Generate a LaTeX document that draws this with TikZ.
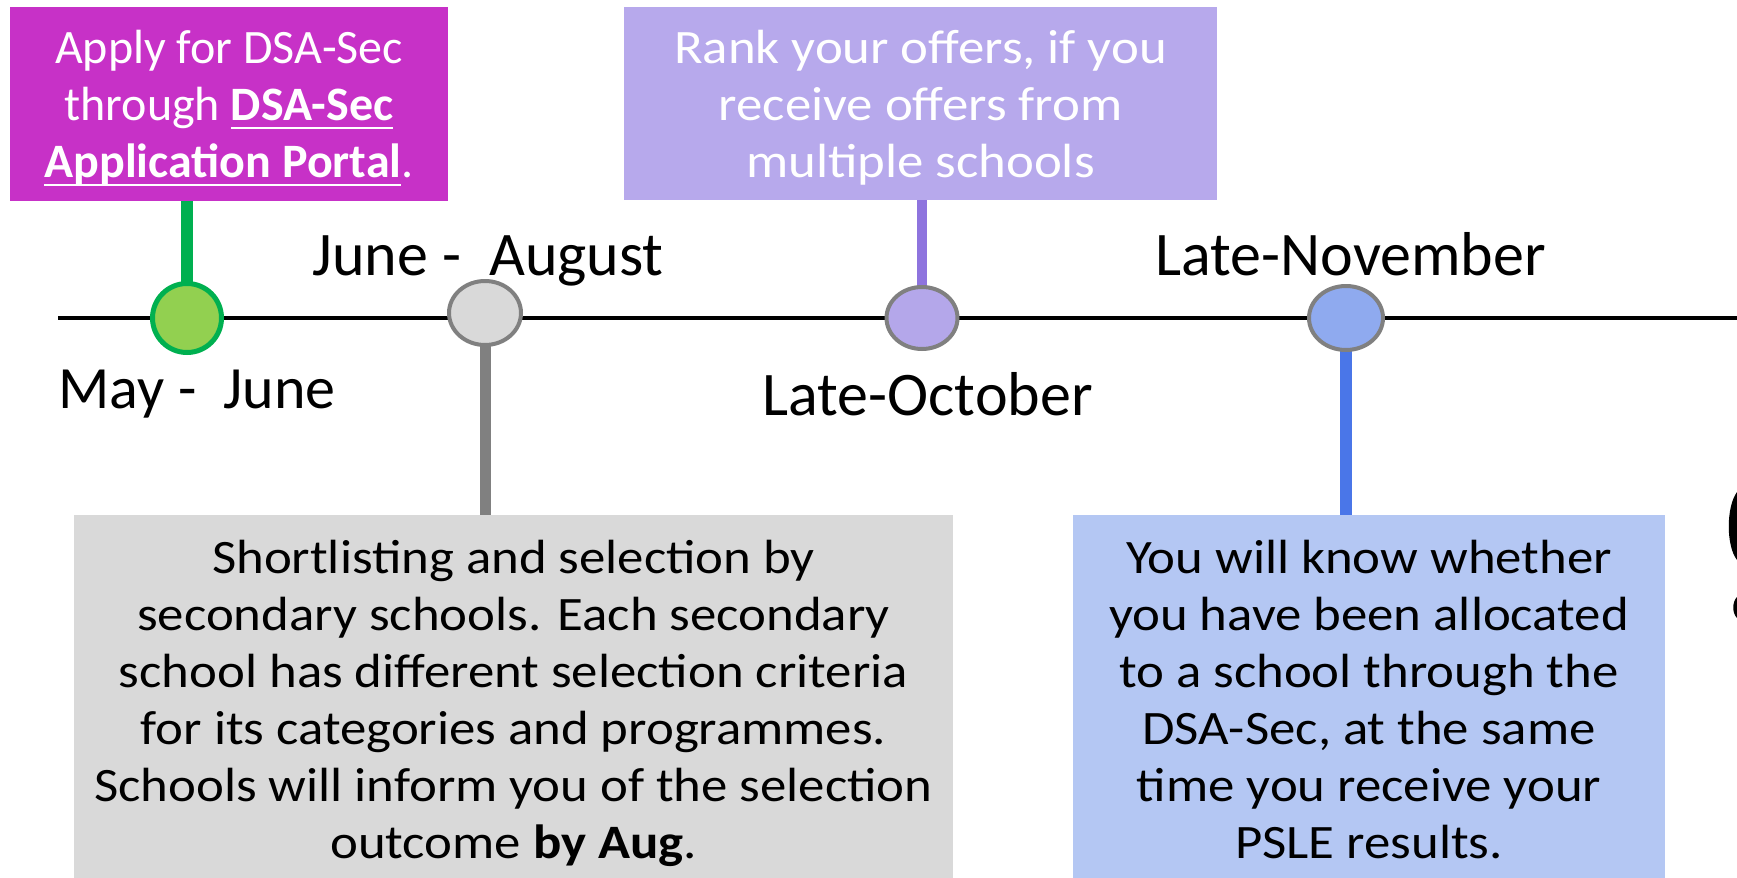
\documentclass[tikz,border=0pt]{standalone}
\usepackage{fontspec}
\setmainfont{Carlito}
\newfontfamily\widefont[FakeStretch=1.1]{Carlito}
\usetikzlibrary{shapes.geometric}
\newcommand{\myul}[1]{\setbox0\hbox{#1}\rlap{\rule[-4pt]{\wd0}{1pt}}\box0}
\definecolor{pboxc}{RGB}{199,49,199}
\definecolor{lboxc}{RGB}{183,169,236}
\definecolor{gboxc}{RGB}{217,217,217}
\definecolor{bboxc}{RGB}{180,199,243}
\definecolor{gstem}{RGB}{0,176,80}
\definecolor{gfill}{RGB}{146,208,80}
\definecolor{ring}{RGB}{128,128,128}
\definecolor{lstem}{RGB}{142,116,222}
\definecolor{lfill}{RGB}{180,167,234}
\definecolor{bstem}{RGB}{74,118,232}
\definecolor{bfill}{RGB}{143,170,239}
\tikzset{
  boxshape/.style={rectangle, draw=none, inner sep=0pt},
  bodytext/.style={align=center, inner sep=0pt, font=\fontsize{24}{28.5}\selectfont},
  widetext/.style={align=center, inner sep=0pt, font=\widefont\fontsize{24}{28.5}\selectfont},
  datetext/.style={anchor=base west, inner sep=0pt, font=\fontsize{31}{36}\selectfont},
  dot/.style={ellipse, inner sep=0pt, line width=2pt, draw=ring},
  stem/.style={line width=#1},
  timeline/.style={line width=2pt, black}
}
\begin{document}
\begin{tikzpicture}[x=0.5pt,y=-0.5pt]
\useasboundingbox (0,0) rectangle (1737,878);
\clip (0,0) rectangle (1737,878);
\fill[white] (0,0) rectangle (1737,878);

% boxes
\node[boxshape, fill=pboxc, minimum width=219pt, minimum height=97pt] (pbox) at (229,104) {};
\node[boxshape, fill=lboxc, minimum width=296.5pt, minimum height=96.5pt] (lbox) at (920.5,103.5) {};
\node[boxshape, fill=gboxc, minimum width=439.5pt, minimum height=192.5pt] (gbox) at (513.5,707.5) {};
\node[boxshape, fill=bboxc, minimum width=296pt, minimum height=192.5pt] (bbox) at (1369,707.5) {};

% timeline
\coordinate (tl0) at (58,318);
\coordinate (tl1) at (1737,318);
\draw[timeline] (tl0) -- (tl1);

% dots (positions)
\coordinate (gc) at (187,318);
\coordinate (grc) at (485,313);
\coordinate (lc) at (922,318);
\coordinate (bc) at (1346,318);

% stems
\draw[stem=6pt, gstem] (gc |- pbox.south) -- (gc);
\draw[stem=5.5pt, ring] (grc) -- (grc |- gbox.north);
\draw[stem=5pt, lstem] (lc |- lbox.south) -- (lc);
\draw[stem=6pt, bstem] (bc) -- (bc |- bbox.north);

% dots
\node[dot, fill=gfill, draw=gstem, line width=2.5pt, minimum width=34.5pt, minimum height=34.5pt] (gdot) at (gc) {};
\node[dot, fill=gboxc, minimum width=36pt, minimum height=32pt] (grdot) at (grc) {};
\node[dot, fill=lfill, minimum width=35.5pt, minimum height=31pt] (ldot) at (lc) {};
\node[dot, fill=bfill, minimum width=37pt, minimum height=32pt] (bdot) at (bc) {};

% box texts
\node[bodytext, text=white] (ptext) at (229,108) {Apply for DSA-Sec\\through \myul{\textbf{DSA-Sec}}\\\myul{\textbf{Application Portal}}.};
\node[widetext, text=white] (ltext) at (920.5,108) {Rank your offers, if you\\receive offers from\\multiple schools};
\node[widetext] (gtext) at (513.5,703) {Shortlisting and selection by\\secondary schools. Each secondary\\school has different selection criteria\\for its categories and programmes.\\Schools will inform you of the selection\\outcome \textbf{by Aug}.};
\node[widetext] (btext) at (1369,700) {You will know whether\\you have been allocated\\to a school through the\\DSA-Sec, at the same\\time you receive your\\PSLE results.};

% date labels
\node[datetext, font=\fontsize{30}{36}\selectfont] (d1) at (58,408) {May -\hspace{0.45em}June};
\node[datetext] (d2) at (312,275) {June -\ \ August};
\node[datetext] (d3) at (762,415) {Late-October};
\node[datetext] (d4) at (1155,275) {Late-November};

% partial dark shape at right edge
\fill[black] (1737,492) .. controls (1726,507) and (1726,546) .. (1737,560) -- cycle;
\fill[black] (1737,597) .. controls (1732,602) and (1732,613) .. (1737,618) -- cycle;
\end{tikzpicture}
\end{document}
